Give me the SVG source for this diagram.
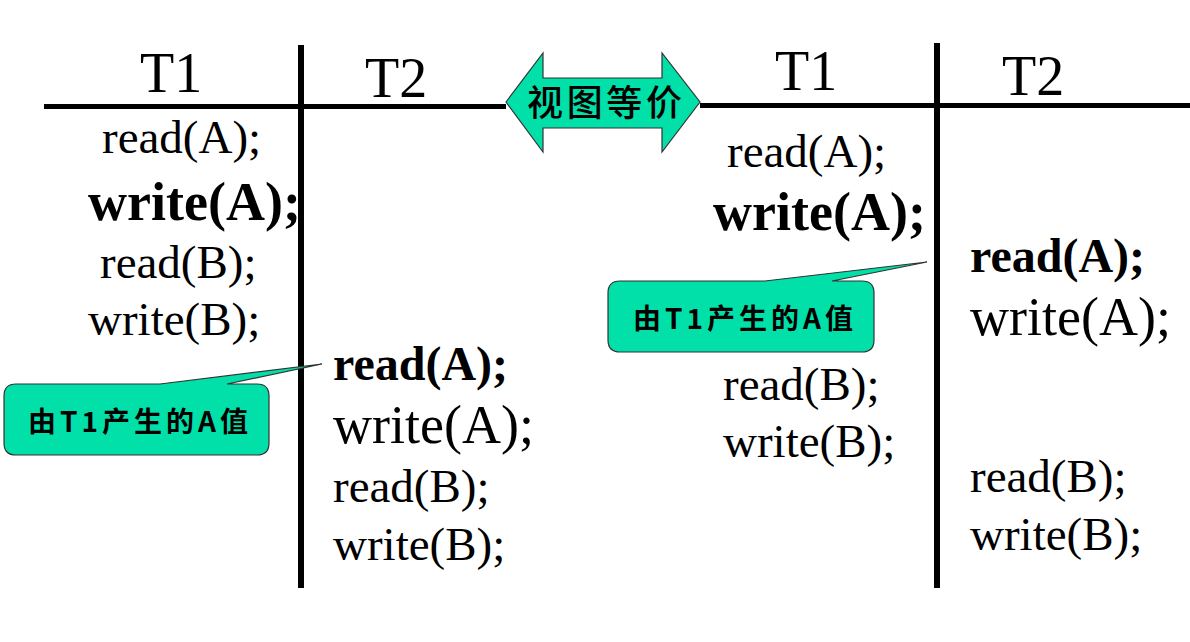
<svg xmlns="http://www.w3.org/2000/svg" width="1190" height="642" viewBox="0 0 1190 642">
<style>
.bg{fill:#ffffff}
.rule{stroke:#000;fill:none}
.t{font-family:"Liberation Serif","Times New Roman",serif;fill:#000}
.hd{font-size:56px}
.r{font-size:47px}
.rb{font-size:48px}
.rl{font-size:54px}
.b{font-weight:bold}
.shape{fill:#00E0A8;stroke:#333;stroke-width:1.2}
.cj{font-family:"Noto Sans CJK SC",sans-serif;font-weight:bold;font-size:28px;fill:#000}
.cv{font-family:"Noto Sans CJK SC",sans-serif;font-weight:500;font-size:36px;fill:#000}
</style>
<rect class="bg" x="0" y="0" width="1190" height="642"/>
<g id="connectors">
<line class="rule" x1="44" y1="106.5" x2="506" y2="106.5" stroke-width="5"/>
<line class="rule" x1="700" y1="105.5" x2="1190" y2="105.5" stroke-width="5"/>
<line class="rule" x1="301" y1="45" x2="301" y2="588" stroke-width="6"/>
<line class="rule" x1="937" y1="43" x2="937" y2="588" stroke-width="6"/>
</g>
<g id="left-T1">
<text class="t hd" x="140" y="92">T1</text>
<text class="t r" x="102" y="153">read(A);</text>
<text class="t rl b" x="88" y="220">write(A);</text>
<text class="t r" x="100" y="278">read(B);</text>
<text class="t r" x="88" y="335">write(B);</text>
</g>
<g id="left-T2">
<text class="t hd" x="365" y="97">T2</text>
<text class="t rb b" x="333" y="380">read(A);</text>
<text class="t rl" x="333" y="443">write(A);</text>
<text class="t r" x="333" y="502">read(B);</text>
<text class="t r" x="333" y="560">write(B);</text>
</g>
<g id="equiv-arrow">
<polygon class="shape" points="506,102 543,53 543,78 662,78 662,53 700,102 662,152 662,128 543,128 543,152"/>
<text class="cv" x="527" y="116" textLength="155" lengthAdjust="spacing">视图等价</text>
</g>
<g id="right-T1">
<text class="t hd" x="775" y="90">T1</text>
<text class="t r" x="727" y="167">read(A);</text>
<text class="t rl b" x="713" y="230">write(A);</text>
<text class="t r" x="723" y="400">read(B);</text>
<text class="t r" x="723" y="457">write(B);</text>
</g>
<g id="right-T2">
<text class="t hd" x="1002" y="95">T2</text>
<text class="t rb b" x="970" y="272">read(A);</text>
<text class="t rl" x="970" y="335">write(A);</text>
<text class="t r" x="970" y="492">read(B);</text>
<text class="t r" x="970" y="550">write(B);</text>
</g>
<g id="callout-left">
<path class="shape" d="M16,384 H160 L322,364 L227,384 H257 Q269,384 269,396 V443 Q269,455 257,455 H16 Q4,455 4,443 V396 Q4,384 16,384 Z"/>
<text class="cj" x="28" y="432" textLength="220" lengthAdjust="spacing">由T1产生的A值</text>
</g>
<g id="callout-right">
<path class="shape" d="M620,281 H765 L927,262 L832,281 H862 Q874,281 874,293 V340 Q874,352 862,352 H620 Q608,352 608,340 V293 Q608,281 620,281 Z"/>
<text class="cj" x="633" y="329" textLength="220" lengthAdjust="spacing">由T1产生的A值</text>
</g>
</svg>
